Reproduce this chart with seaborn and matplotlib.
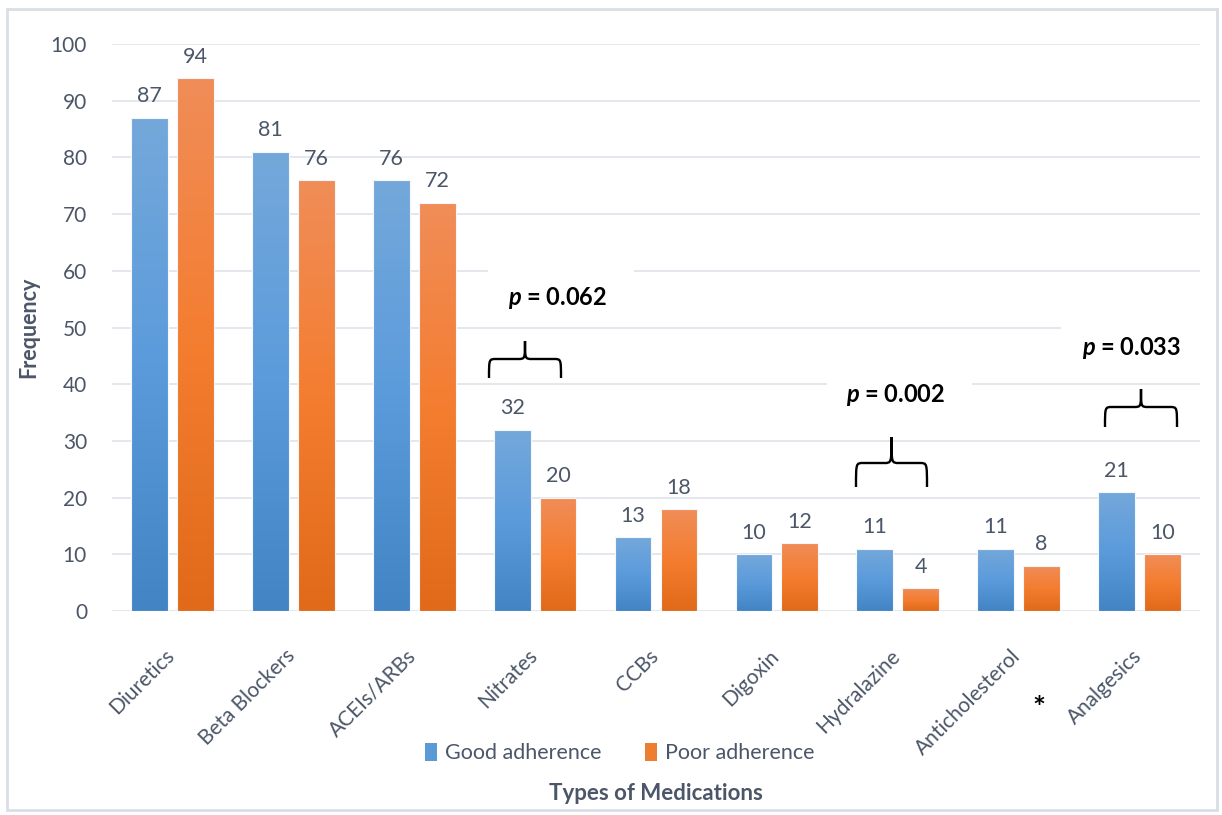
import numpy as np
import pandas as pd
import seaborn as sns
import matplotlib
matplotlib.use("Agg")
import matplotlib.pyplot as plt
import matplotlib.transforms as mtransforms
from matplotlib.colors import LinearSegmentedColormap
from matplotlib.patches import Rectangle, Patch, PathPatch
from matplotlib.path import Path

categories = ["Diuretics", "Beta Blockers", "ACEIs/ARBs", "Nitrates", "CCBs",
              "Digoxin", "Hydralazine", "Anticholesterol", "Analgesics"]
good_adherence = [87, 81, 76, 32, 13, 10, 11, 11, 21]
poor_adherence = [94, 76, 72, 20, 18, 12, 4, 8, 10]
series_names = ["Good adherence", "Poor adherence"]
y_ticks = [0, 10, 20, 30, 40, 50, 60, 70, 80, 90, 100]
p_values = ["0.062", "0.002", "0.033"]

df = pd.DataFrame({
    "Medication": categories * 2,
    "Frequency": good_adherence + poor_adherence,
    "Group": [series_names[0]] * len(categories) + [series_names[1]] * len(categories),
})

sns.set_theme(style="white")
plt.rcParams['font.family'] = ['Lato', 'DejaVu Sans']
plt.rcParams['mathtext.fontset'] = 'custom'
plt.rcParams['mathtext.it'] = 'Lato:italic:bold'
plt.rcParams['mathtext.rm'] = 'Lato:bold'

TXT = "#4b5668"
blue_mid = "#5b9bd5"
orange_mid = "#ed7d31"

W, H = 1222, 815
fig = plt.figure(figsize=(W / 100, H / 100), dpi=100)
ax = fig.add_axes([112 / W, 1 - 611 / H, (1200 - 112) / W, (611 - 44) / H])

sns.barplot(data=df, x="Medication", y="Frequency", hue="Group",
            palette=[blue_mid, orange_mid], order=categories, hue_order=series_names,
            width=0.76, gap=0.2, ax=ax, legend=False, saturation=1)

n = len(categories)
ax.set_ylim(0, 100)
ax.set_xlim(-0.5, n - 0.5)
ax.set_yticks(y_ticks)
ax.yaxis.grid(True, color="#dfe3e8", linewidth=1.2, zorder=0)
ax.set_axisbelow(True)
for s in ax.spines.values():
    s.set_visible(False)

# gradient fills
cmap_b = LinearSegmentedColormap.from_list("b", ["#4284c4", "#5b9bdc", "#74a8da"])
cmap_o = LinearSegmentedColormap.from_list("o", ["#e06a19", "#f47d30", "#f08d58"])
grad = np.linspace(0, 1, 256).reshape(-1, 1)
patches = list(ax.patches)[:2 * n]
all_vals = good_adherence + poor_adherence
for i, p in enumerate(patches):
    x0, y0 = p.get_x(), p.get_y()
    w, h = p.get_width(), p.get_height()
    cm = cmap_b if i < n else cmap_o
    p.set_facecolor("none")
    p.set_edgecolor("#f3f6fa")
    p.set_linewidth(0.8)
    im = ax.imshow(grad, cmap=cm, origin="lower", aspect="auto",
                   extent=[x0, x0 + w, y0, y0 + h], zorder=2)
    im.set_clip_path(p)
    p.set_zorder(3)
    ax.text(x0 + w / 2, all_vals[i] + 2.0, f"{all_vals[i]}",
            ha="center", va="bottom", fontsize=15.5, color=TXT)
ax.set_xlim(-0.5, n - 0.5)
ax.set_ylim(0, 100)

ax.tick_params(axis="y", labelsize=15, labelcolor=TXT, length=0, pad=18)
ax.tick_params(axis="x", labelsize=15, labelcolor=TXT, length=0, pad=25)
ax.set_xticks(range(n))
ax.set_xticklabels(categories, rotation=45, ha="right", rotation_mode="anchor")
offset = mtransforms.ScaledTranslation(-8 / 100, 0, fig.dpi_scale_trans)
for lbl in ax.get_xticklabels():
    lbl.set_transform(lbl.get_transform() + offset)
ax.set_xlabel("")
ax.set_ylabel("Frequency", fontsize=15.5, fontweight="bold", color=TXT, labelpad=8)


def px2x(px):
    return (px - 112) / ((1200 - 112) / n) - 0.5


def py2y(py):
    return (611 - py) / 5.67


def brace(xl, xr, y_tip, y_mid, y_end):
    xc = (xl + xr) / 2
    r = 0.06
    verts = [
        (xl, y_end), (xl, y_mid), (xl, y_mid), (xl + r, y_mid),
        (xc - r, y_mid), (xc, y_mid), (xc, y_mid), (xc, y_tip),
        (xc, y_tip), (xc, y_mid), (xc, y_mid), (xc + r, y_mid),
        (xr - r, y_mid), (xr, y_mid), (xr, y_mid), (xr, y_end),
    ]
    codes = [Path.MOVETO, Path.CURVE4, Path.CURVE4, Path.CURVE4,
             Path.LINETO, Path.CURVE4, Path.CURVE4, Path.CURVE4,
             Path.MOVETO, Path.CURVE4, Path.CURVE4, Path.CURVE4,
             Path.LINETO, Path.CURVE4, Path.CURVE4, Path.CURVE4]
    ax.add_patch(PathPatch(Path(verts, codes), facecolor="none",
                           edgecolor="black", linewidth=1.7, zorder=5, clip_on=False))


brace_px = [(489, 561, 341, 359, 378), (856, 927, 437, 463, 487), (1105, 1177, 389, 407, 427)]
text_px = [(558, 298), (896, 395), (1132, 348)]
box_px = [(488, 634, 262, 318), (827, 972, 376, 415), (1061, 1205, 318, 370)]
for (xl, xr, yt, ym, ye), (tx, ty), (bx0, bx1, by0, by1), pv in zip(brace_px, text_px, box_px, p_values):
    ax.add_patch(Rectangle((px2x(bx0), py2y(by1)), px2x(bx1) - px2x(bx0), py2y(by0) - py2y(by1),
                           facecolor="white", edgecolor="none", zorder=1, clip_on=False))
    brace(px2x(xl), px2x(xr), py2y(yt), py2y(ym), py2y(ye))
    ax.text(px2x(tx), py2y(ty), r"$p$" + f" = {pv}", ha="center", va="center",
            fontsize=17, fontweight="bold", color="black", zorder=6)

# asterisk
fig.text(1039 / W, 1 - 709 / H, "*", fontsize=22, fontweight="bold", color="black",
         ha="center", va="center")

# legend
handles = [Patch(facecolor=blue_mid, edgecolor="none"), Patch(facecolor=orange_mid, edgecolor="none")]
fig.legend(handles, series_names, loc="center", bbox_to_anchor=(620 / W, 1 - 753 / H),
           ncol=2, frameon=False, fontsize=15.5, handlelength=0.55, handleheight=0.9,
           handletextpad=0.4, columnspacing=2.0, labelcolor=TXT)

fig.text(656 / W, 1 - 794 / H, "Types of Medications", ha="center", va="center",
         fontsize=16, fontweight="bold", color=TXT)

# outer frame
fig.patches.append(Rectangle((7 / W, 5 / H), 1210 / W, 801 / H, transform=fig.transFigure,
                             fill=False, edgecolor="#d9dee6", linewidth=2))

fig.savefig("out.png", dpi=100)
